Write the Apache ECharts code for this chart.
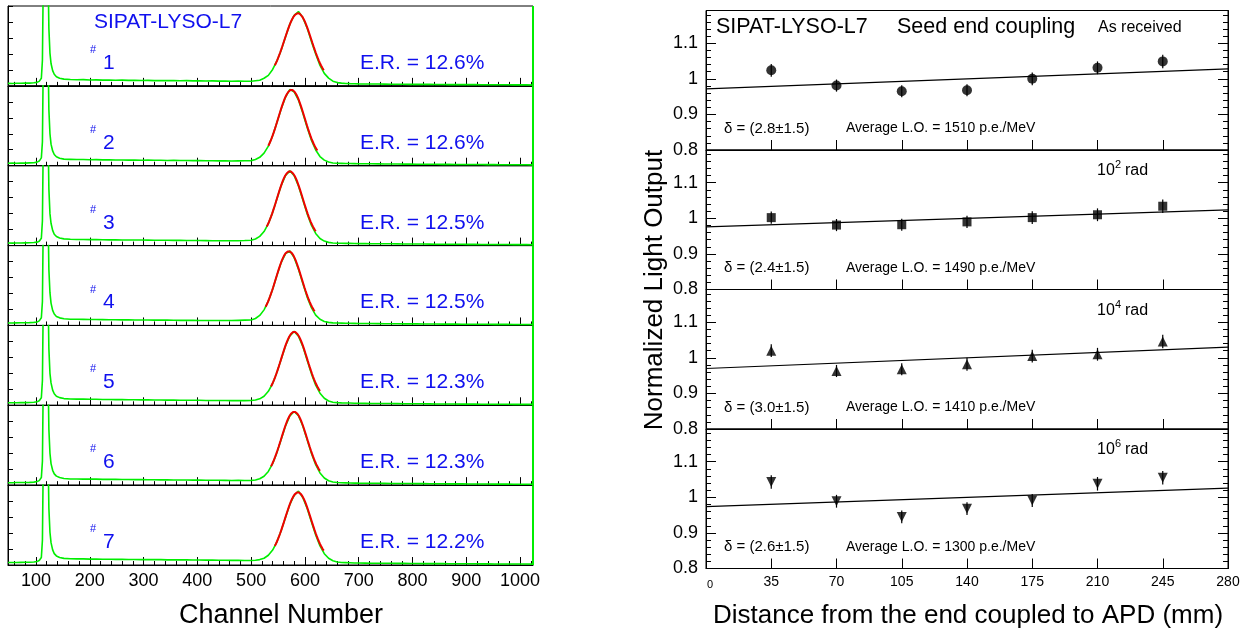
<!DOCTYPE html>
<html>
<head>
<meta charset="utf-8">
<script src="https://cdn.jsdelivr.net/npm/echarts@6/dist/echarts.min.js"></script>
<style>
  html, body { margin: 0; padding: 0; background: #ffffff; }
  #chart { width: 1246px; height: 633px; }
</style>
</head>
<body>
<div id="chart"></div>
<script>
// ---------------- Spectra (left column) ----------------
// ADC channel grid shared by the seven spectra
const channels = [48,56,64,72,80,88,96,102,106,110,112,114,116,118,120,122,124,126,128,131,134,138,144,152,
  164,176,188,200,212,224,236,248,260,272,284,296,308,320,332,344,356,368,380,392,404,416,428,440,452,464,476,488,
  500,508,516,524,532,540,548,556,564,572,580,588,596,604,612,620,628,636,644,652,660,668,676,684,692,700,
  712,724,736,748,760,772,784,796,808,820,832,844,856,868,880,892,904,916,928,940,952,964,976,988,1000,1012,1024];

// counts (arbitrary units, full scale = 100) for crystal positions #1..#7
const spectrum1 = [3.1,3.0,3.3,3.2,3.5,3.4,3.8, 4.4,5.6,9.5, 32,160,160,160,160,160,72,41,28, 19,14.5,11.5,9.6,8.4,
  7.9,7.6,7.8,7.4,7.5,7.2,7.3,7.0,7.2,6.9,7.1,6.8,6.9,6.6,6.8,6.5,6.7,6.4,6.5,6.3,6.4,6.1,6.2,5.9,6.0,5.8,5.9,5.7,
  5.8,6.4,7.0,9.5,13.1,20.6,31.2,45.0,61.6,77.3,88.4,93.0,85.6,72.6,55.7,39.9,25.6,15.6,9.7,5.9,4.1,3.4,3.0,2.8,2.7,2.5,
  2.4,2.3,2.3,2.2,2.1,2.1,2.0,1.9,1.9,1.8,1.8,1.7,1.7,1.6,1.6,1.5,1.5,1.5,1.4,1.4,1.3,1.3,1.3,1.2,1.2,1.2,1.1];
const spectrum2 = [3.0,3.2,3.1,3.4,3.3,3.6,3.7, 4.5,5.8,9.8, 30,160,160,160,160,160,70,40,27, 18.5,14.0,11.2,9.4,8.3,
  8.0,7.7,7.8,7.5,7.6,7.3,7.4,7.1,7.2,7.0,7.1,6.9,7.0,6.8,6.8,6.6,6.7,6.5,6.6,6.4,6.4,6.2,6.3,6.1,6.1,6.0,6.1,6.2,
  6.4,7.7,10.5,15.7,24.6,37.6,54.0,71.4,86.0,95.5,92.4,82.2,66.1,48.2,32.0,19.7,11.5,7.0,4.6,3.5,3.0,2.9,2.8,2.7,2.6,2.5,
  2.4,2.4,2.3,2.2,2.2,2.1,2.0,2.0,1.9,1.9,1.8,1.8,1.7,1.7,1.6,1.6,1.5,1.5,1.5,1.4,1.4,1.3,1.3,1.3,1.2,1.2,1.1];
const spectrum3 = [3.2,3.1,3.3,3.2,3.4,3.5,3.9, 4.3,5.5,9.2, 31,160,160,160,160,160,71,40,28, 19,14.2,11.4,9.5,8.4,
  7.9,7.7,7.7,7.5,7.4,7.3,7.2,7.1,7.0,7.0,6.9,6.9,6.8,6.7,6.7,6.6,6.5,6.5,6.4,6.3,6.3,6.2,6.1,6.1,6.0,6.0,6.1,6.3,
  6.6,8.2,11.5,17.6,27.5,41.6,58.6,75.4,87.9,93.6,87.5,74.6,57.4,40.0,25.5,15.2,8.9,5.6,4.0,3.3,3.0,2.9,2.8,2.7,2.6,2.5,
  2.4,2.3,2.3,2.2,2.2,2.1,2.0,1.9,1.9,1.9,1.8,1.7,1.7,1.6,1.6,1.6,1.5,1.5,1.4,1.4,1.4,1.3,1.3,1.2,1.2,1.2,1.1];
const spectrum4 = [3.0,3.1,3.2,3.3,3.3,3.5,3.8, 4.4,5.7,9.6, 30,160,160,160,160,160,70,41,28, 18.8,14.3,11.3,9.5,8.3,
  7.8,7.7,7.6,7.5,7.4,7.3,7.2,7.2,7.0,7.0,6.9,6.8,6.8,6.7,6.6,6.6,6.5,6.4,6.4,6.3,6.2,6.2,6.1,6.1,6.1,6.2,6.4,6.6,
  6.8,8.7,12.5,19.5,30.4,45.4,62.8,79.0,89.9,93.2,84.9,70.4,52.7,35.8,22.3,13.0,7.7,5.0,3.8,3.2,3.0,2.9,2.8,2.7,2.6,2.5,
  2.4,2.4,2.3,2.2,2.1,2.1,2.0,2.0,1.9,1.8,1.8,1.8,1.7,1.6,1.6,1.5,1.5,1.5,1.4,1.4,1.3,1.3,1.3,1.2,1.2,1.1,1.1];
const spectrum5 = [3.1,3.2,3.2,3.4,3.3,3.5,3.9, 4.4,5.6,9.4, 31,160,160,160,160,160,71,40,28, 19,14.4,11.4,9.6,8.4,
  7.9,7.7,7.7,7.5,7.5,7.3,7.3,7.1,7.1,7.0,7.0,6.8,6.8,6.7,6.7,6.5,6.5,6.4,6.4,6.3,6.3,6.1,6.1,6.0,6.0,5.9,5.9,5.8,
  6.0,6.6,8.1,11.4,17.5,27.3,41.3,58.0,74.6,87.0,92.6,86.6,73.8,56.8,39.7,25.3,15.1,8.8,5.4,3.9,3.3,3.0,2.9,2.8,2.6,2.5,
  2.4,2.3,2.3,2.2,2.2,2.1,2.0,2.0,1.9,1.9,1.8,1.7,1.7,1.7,1.6,1.5,1.5,1.5,1.4,1.4,1.3,1.3,1.3,1.2,1.2,1.2,1.1];
const spectrum6 = [3.0,3.1,3.3,3.3,3.4,3.5,3.8, 4.5,5.7,9.5, 30,160,160,160,160,160,70,40,27, 18.6,14.1,11.3,9.5,8.3,
  7.8,7.8,7.6,7.5,7.5,7.3,7.2,7.2,7.0,7.1,6.9,6.9,6.8,6.8,6.6,6.6,6.5,6.5,6.4,6.3,6.3,6.2,6.1,6.1,6.0,5.9,6.0,5.8,
  6.0,6.5,8.0,11.2,17.2,27.0,41.0,57.6,74.3,86.8,92.3,86.9,74.2,57.3,40.1,25.6,15.3,9.0,5.5,4.0,3.3,3.0,2.9,2.7,2.6,2.5,
  2.4,2.4,2.3,2.2,2.1,2.1,2.1,2.0,1.9,1.9,1.8,1.8,1.7,1.6,1.6,1.6,1.5,1.5,1.4,1.4,1.3,1.3,1.3,1.2,1.2,1.2,1.1];
const spectrum7 = [3.1,3.1,3.2,3.3,3.4,3.4,3.8, 4.4,5.6,9.4, 31,160,160,160,160,160,71,41,28, 19,14.3,11.4,9.5,8.3,
  7.9,7.7,7.7,7.4,7.5,7.2,7.3,7.1,7.1,6.9,7.0,6.8,6.9,6.7,6.7,6.5,6.6,6.4,6.4,6.3,6.3,6.1,6.1,6.0,5.9,5.8,5.8,5.7,
  5.7,6.0,6.8,8.5,12.2,18.7,29.1,43.3,59.9,75.9,87.1,92.5,84.5,71.2,54.3,37.6,23.9,14.2,8.4,5.3,3.8,3.2,3.0,2.8,2.6,2.5,
  2.4,2.3,2.3,2.2,2.2,2.1,2.0,1.9,1.9,1.8,1.8,1.8,1.7,1.6,1.6,1.5,1.5,1.5,1.4,1.4,1.3,1.3,1.2,1.2,1.2,1.2,1.1];
const spectra = [spectrum1, spectrum2, spectrum3, spectrum4, spectrum5, spectrum6, spectrum7];

// Gaussian photopeak fit: peak channel, amplitude, flat background, pedestal channel
const peakChannel = [587, 575, 572, 570, 580, 580, 587];
const fitAmplitude = [85, 89, 87, 87, 86, 86, 85];
const fitBackground = 6;
const pedestalChannel = 118;
// FWHM energy resolution (%) quoted on each spectrum
const energyResolution = [12.6, 12.6, 12.5, 12.5, 12.3, 12.3, 12.2];

const channelTicks = [100, 200, 300, 400, 500, 600, 700, 800, 900, 1000];
const channelMinorTicks = [60, 80, 120, 140, 160, 180, 220, 240, 260, 280, 320, 340, 360, 380, 420, 440, 460, 480,
  520, 540, 560, 580, 620, 640, 660, 680, 720, 740, 760, 780, 820, 840, 860, 880, 920, 940, 960, 980, 1020];

// ---------------- Light response uniformity (right column) ----------------
const distance = [35, 70, 105, 140, 175, 210, 245];
const loAsReceived = [1.024, 0.981, 0.965, 0.968, 1.000, 1.031, 1.049];
const lo1e2rad = [1.002, 0.981, 0.982, 0.990, 1.002, 1.010, 1.034];
const lo1e4rad = [1.020, 0.963, 0.968, 0.982, 1.005, 1.010, 1.046];
const lo1e6rad = [1.043, 0.989, 0.945, 0.968, 0.991, 1.038, 1.055];
const errAsReceived = [0.018, 0.017, 0.017, 0.017, 0.018, 0.018, 0.019];
const err1e2rad = [0.017, 0.017, 0.017, 0.017, 0.018, 0.018, 0.019];
const err1e4rad = [0.018, 0.017, 0.017, 0.018, 0.018, 0.018, 0.019];
const err1e6rad = [0.019, 0.018, 0.018, 0.018, 0.018, 0.019, 0.019];
const lightOutput = [loAsReceived, lo1e2rad, lo1e4rad, lo1e6rad];
const lightOutputErr = [errAsReceived, err1e2rad, err1e4rad, err1e6rad];
// linear fit slope delta (%), normalised to 1 at the crystal centre (140 mm)
const delta = [2.8, 2.4, 3.0, 2.6];
const deltaErr = [1.5, 1.5, 1.5, 1.5];
const averageLO = [1510, 1490, 1410, 1300];
const doseExponent = [null, 2, 4, 6];

// ---------------- layout & style ----------------
const FONT = '"Liberation Sans", Arial, Helvetica, sans-serif';
const GREEN = '#00ee00', RED = '#f00000', BLUE = '#1010ee';
const L_LEFT = 8, L_WIDTH = 525, L_TOP = 6, L_H = 79.86;
const R_LEFT = 706, R_WIDTH = 522, R_TOP = 10.5, R_H = 139.5;

function fitCurve(k) {
  const P = peakChannel[k];
  const sigma = energyResolution[k] / 100 * (P - pedestalChannel) / 2.355;
  const pts = [];
  for (let x = P - 43; x <= P + 48; x += 1) {
    pts.push([x, fitBackground + fitAmplitude[k] * Math.exp(-(x - P) * (x - P) / (2 * sigma * sigma))]);
  }
  return pts;
}

const grid = [], xAxis = [], yAxis = [], series = [], graphic = [];

// left column: seven stacked spectra
spectra.forEach((counts, k) => {
  const gi = grid.length;
  grid.push({ left: L_LEFT, width: L_WIDTH, top: L_TOP + k * L_H, height: L_H,
    show: true, borderColor: '#000', borderWidth: 1 });
  const xMain = xAxis.length;
  xAxis.push({
    gridIndex: gi, type: 'value', min: 48, max: 1024, position: 'bottom',
    axisLine: { show: true, onZero: false, lineStyle: { color: '#000', width: 1 } },
    axisTick: { show: true, inside: true, length: 8, customValues: channelTicks, lineStyle: { color: '#000', width: 1 } },
    axisLabel: { show: k === 6, customValues: channelTicks, color: '#000', fontSize: 18, fontFamily: FONT, margin: 7,
      formatter: v => String(v) },
    splitLine: { show: false }
  });
  xAxis.push({
    gridIndex: gi, type: 'value', min: 48, max: 1024, position: 'bottom',
    axisLine: { show: false },
    axisTick: { show: true, inside: true, length: 4, customValues: channelMinorTicks, lineStyle: { color: '#000', width: 1 } },
    axisLabel: { show: false }, splitLine: { show: false }
  });
  const yi = yAxis.length;
  yAxis.push({
    gridIndex: gi, type: 'value', min: 0, max: 100, interval: 20,
    axisLine: { show: true, onZero: false, lineStyle: { color: '#000', width: 1 } },
    axisTick: { show: true, inside: true, length: 5, lineStyle: { color: '#000' } },
    axisLabel: { show: false }, splitLine: { show: false }
  });
  series.push({
    type: 'line', xAxisIndex: xMain, yAxisIndex: yi, clip: true,
    data: channels.map((c, i) => [c, counts[i]]),
    showSymbol: false, symbol: 'none', z: 3,
    lineStyle: { color: GREEN, width: 1.6 },
    markLine: {
      silent: true, symbol: 'none', label: { show: false },
      lineStyle: { color: GREEN, width: 2, type: 'solid' },
      data: [{ xAxis: 1024 }]
    }
  });
  series.push({
    type: 'line', xAxisIndex: xMain, yAxisIndex: yi, clip: true,
    data: fitCurve(k), showSymbol: false, symbol: 'none', z: 4,
    lineStyle: { color: RED, width: 2 }
  });
  const top = L_TOP + k * L_H;
  graphic.push({ type: 'text', x: 93, y: top + 44,
    style: { text: '#', fill: BLUE, font: '11px ' + FONT, align: 'center', verticalAlign: 'middle' } });
  graphic.push({ type: 'text', x: 103, y: top + 57,
    style: { text: String(k + 1), fill: BLUE, font: '21px ' + FONT, align: 'left', verticalAlign: 'middle' } });
  graphic.push({ type: 'text', x: 360, y: top + 57,
    style: { text: 'E.R. = ' + energyResolution[k].toFixed(1) + '%', fill: BLUE, font: '21px ' + FONT,
      align: 'left', verticalAlign: 'middle' } });
});

graphic.push({ type: 'text', x: 168, y: 22,
  style: { text: 'SIPAT-LYSO-L7', fill: BLUE, font: '21px ' + FONT, align: 'center', verticalAlign: 'middle' } });
graphic.push({ type: 'text', x: 281, y: 616,
  style: { text: 'Channel Number', fill: '#000', font: '27px ' + FONT, align: 'center', verticalAlign: 'middle' } });

// right column: light response uniformity vs distance
const markerSymbol = ['circle', 'rect', 'triangle', 'triangle'];
const markerRotate = [0, 0, 0, 180];
const markerSize = [10, 9, 10, 10];

lightOutput.forEach((lo, k) => {
  const gi = grid.length;
  grid.push({ left: R_LEFT, width: R_WIDTH, top: R_TOP + k * R_H, height: R_H,
    show: true, borderColor: '#000', borderWidth: 1 });
  const xi = xAxis.length;
  xAxis.push({
    gridIndex: gi, type: 'value', min: 0, max: 280, interval: 35, position: 'bottom',
    axisLine: { show: true, onZero: false, lineStyle: { color: '#000', width: 1 } },
    axisTick: { show: true, inside: true, length: 10, lineStyle: { color: '#000' } },
    axisLabel: {
      show: k === 3, color: '#000', fontSize: 14, fontFamily: FONT, margin: 7,
      formatter: v => (v === 0 ? '{z|0}' : String(v)),
      rich: { z: { fontSize: 11, fontFamily: FONT, color: '#000', padding: [4, 0, 0, 8] } }
    },
    splitLine: { show: false }
  });
  const yi = yAxis.length;
  const yBase = {
    gridIndex: gi, type: 'value', min: 0.8, max: 1.192, interval: 0.1,
    axisLine: { show: true, onZero: false, lineStyle: { color: '#000', width: 1 } },
    axisTick: { show: true, inside: true, length: 10, lineStyle: { color: '#000' } },
    minorTick: { show: true, splitNumber: 5, length: 5, lineStyle: { color: '#000' } },
    splitLine: { show: false }, minorSplitLine: { show: false }
  };
  yAxis.push(Object.assign({}, yBase, {
    position: 'left',
    axisLabel: { show: true, color: '#000', fontSize: 18, fontFamily: FONT, margin: 8,
      showMaxLabel: false, formatter: v => String(Math.round(v * 10) / 10) }
  }));
  yAxis.push(Object.assign({}, yBase, { position: 'right', axisLabel: { show: false } }));

  // linear fit through the crystal: LO(x) = 1 + delta * (x - 140) / 140
  const d = delta[k] / 100;
  series.push({
    type: 'line', xAxisIndex: xi, yAxisIndex: yi, showSymbol: false, symbol: 'none', z: 2,
    data: [[0, 1 - d], [280, 1 + d]],
    lineStyle: { color: '#000', width: 1.2 }
  });
  const err = lightOutputErr[k];
  series.push({
    type: 'custom', xAxisIndex: xi, yAxisIndex: yi, z: 3,
    data: distance.map((x, i) => [x, lo[i] - err[i], lo[i] + err[i]]),
    renderItem: (params, api) => {
      const a = api.coord([api.value(0), api.value(1)]);
      const b = api.coord([api.value(0), api.value(2)]);
      return { type: 'line', shape: { x1: a[0], y1: a[1], x2: b[0], y2: b[1] },
        style: { stroke: '#000', lineWidth: 1.2 } };
    }
  });
  series.push({
    type: 'scatter', xAxisIndex: xi, yAxisIndex: yi, z: 4,
    data: distance.map((x, i) => [x, lo[i]]),
    symbol: markerSymbol[k], symbolSize: markerSize[k], symbolRotate: markerRotate[k],
    itemStyle: { color: '#000' }
  });

  const top = R_TOP + k * R_H;
  graphic.push({ type: 'text', x: 724, y: top + 118,
    style: { text: 'δ = (' + delta[k].toFixed(1) + '±' + deltaErr[k].toFixed(1) + ')', fill: '#000',
      font: '15px ' + FONT, align: 'left', verticalAlign: 'middle' } });
  graphic.push({ type: 'text', x: 846, y: top + 118,
    style: { text: 'Average L.O. = ' + averageLO[k] + ' p.e./MeV', fill: '#000',
      font: '14px ' + FONT, align: 'left', verticalAlign: 'middle' } });
  if (doseExponent[k] === null) {
    graphic.push({ type: 'text', x: 1098, y: top + 17,
      style: { text: 'As received', fill: '#000', font: '16px ' + FONT, align: 'left', verticalAlign: 'middle' } });
  } else {
    graphic.push({ type: 'text', x: 1097, y: top + 21,
      style: { text: '10', fill: '#000', font: '16px ' + FONT, align: 'left', verticalAlign: 'middle' } });
    graphic.push({ type: 'text', x: 1115, y: top + 15,
      style: { text: String(doseExponent[k]), fill: '#000', font: '11px ' + FONT, align: 'left', verticalAlign: 'middle' } });
    graphic.push({ type: 'text', x: 1125, y: top + 21,
      style: { text: 'rad', fill: '#000', font: '16px ' + FONT, align: 'left', verticalAlign: 'middle' } });
  }
});

graphic.push({ type: 'text', x: 716, y: 27,
  style: { text: 'SIPAT-LYSO-L7', fill: '#000', font: '21.5px ' + FONT, align: 'left', verticalAlign: 'middle' } });
graphic.push({ type: 'text', x: 897, y: 27,
  style: { text: 'Seed end coupling', fill: '#000', font: '21.5px ' + FONT, align: 'left', verticalAlign: 'middle' } });
graphic.push({ type: 'text', x: 655, y: 290, rotation: Math.PI / 2,
  style: { text: 'Normalized Light Output', fill: '#000', font: '26px ' + FONT, align: 'center', verticalAlign: 'middle' } });
graphic.push({ type: 'text', x: 968, y: 616,
  style: { text: 'Distance from the end coupled to APD (mm)', fill: '#000', font: '26px ' + FONT,
    align: 'center', verticalAlign: 'middle' } });

const chart = echarts.init(document.getElementById('chart'), null, { renderer: 'canvas' });
chart.setOption({
  backgroundColor: '#ffffff',
  animation: false,
  grid, xAxis, yAxis, series, graphic
});
</script>
</body>
</html>
